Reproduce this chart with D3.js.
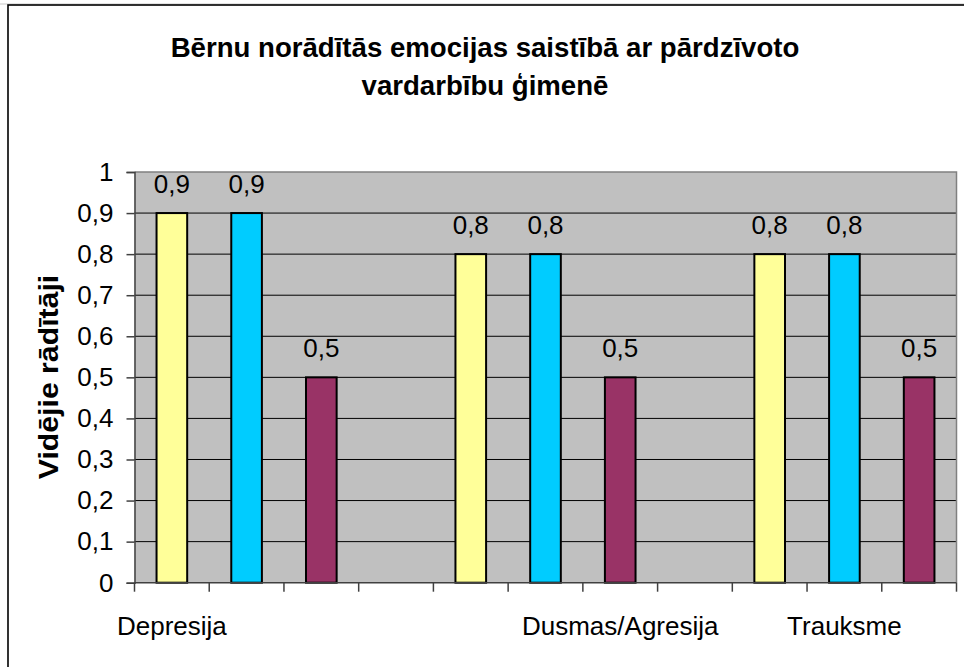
<!DOCTYPE html>
<html>
<head>
<meta charset="utf-8">
<script src="https://cdn.jsdelivr.net/npm/d3@7"></script>
<style>
  html, body { margin: 0; padding: 0; background: #fff; }
  svg { display: block; font-family: Arial, "Liberation Sans", sans-serif; }
</style>
</head>
<body>
<svg id="chart" width="964" height="667"></svg>
<script>
// ---- data ----
const titleLines = ["Bērnu norādītās emocijas saistībā ar pārdzīvoto", "vardarbību ģimenē"];
const yAxisTitle = "Vidējie rādītāji";
const slotLabels = ["Depresija", "", "", "", "", "", "Dusmas/Agresija", "", "", "Trauksme", ""];
const slotValues = [0.9, 0.9, 0.5, null, 0.8, 0.8, 0.5, null, 0.8, 0.8, 0.5];
const slotSeries = [0, 1, 2, null, 0, 1, 2, null, 0, 1, 2];
const yTicks = [0, 0.1, 0.2, 0.3, 0.4, 0.5, 0.6, 0.7, 0.8, 0.9, 1];

const seriesColors = ["#FFFF99", "#00CCFF", "#993366"];

const svg = d3.select("#chart");
const W = 964, H = 667;
const plot = { left: 134.5, right: 956.5, top: 172, bottom: 582.7 };

const fmt = d => (d === 0 || d === 1) ? String(d) : d.toFixed(1).replace(".", ",");

// outer frame
svg.append("line").attr("x1", 0).attr("x2", W).attr("y1", 4).attr("y2", 4)
  .attr("stroke", "#c8c8c8").attr("stroke-width", 1);
svg.append("rect").attr("x", 8).attr("y", 5).attr("width", W + 10).attr("height", H + 10)
  .attr("fill", "#fff").attr("stroke", "#000").attr("stroke-width", 1.6);

// scales
const x = d3.scaleBand().domain(d3.range(slotLabels.length)).range([plot.left, plot.right]).padding(0);
const y = d3.scaleLinear().domain([0, 1]).range([plot.bottom, plot.top]);

// plot background
svg.append("rect").attr("x", plot.left).attr("y", plot.top)
  .attr("width", plot.right - plot.left).attr("height", plot.bottom - plot.top)
  .attr("fill", "#C0C0C0");

// gridlines
svg.append("g").selectAll("line").data(yTicks.filter(t => t > 0 && t < 1)).join("line")
  .attr("x1", plot.left).attr("x2", plot.right)
  .attr("y1", d => y(d)).attr("y2", d => y(d))
  .attr("stroke", "#000").attr("stroke-width", 1);

// plot border top/right
svg.append("path")
  .attr("d", `M${plot.left},${plot.top}H${plot.right}V${plot.bottom}`)
  .attr("fill", "none").attr("stroke", "#808080").attr("stroke-width", 1.5);

// bars
const barW = x.bandwidth() * 0.41;
const bars = slotValues.map((v, i) => ({ i, v, s: slotSeries[i] })).filter(d => d.v != null);
svg.append("g").selectAll("rect").data(bars).join("rect")
  .attr("x", d => x(d.i) + x.bandwidth() / 2 - barW / 2)
  .attr("y", d => y(d.v))
  .attr("width", barW)
  .attr("height", d => y(0) - y(d.v))
  .attr("fill", d => seriesColors[d.s])
  .attr("stroke", "#000").attr("stroke-width", 2);

// value labels
svg.append("g").selectAll("text").data(bars).join("text")
  .attr("x", d => x(d.i) + x.bandwidth() / 2)
  .attr("y", d => y(d.v) - 20)
  .attr("text-anchor", "middle")
  .attr("font-size", 26)
  .attr("fill", "#000")
  .text(d => fmt(d.v));

// y axis
const yAxis = d3.axisLeft(y).tickValues(yTicks).tickFormat(fmt).tickSize(8).tickPadding(13);
const gy = svg.append("g").attr("transform", `translate(${plot.left},0)`).call(yAxis);
gy.select(".domain").attr("stroke", "#404040").attr("stroke-width", 1.5);
gy.selectAll(".tick line").attr("stroke", "#404040").attr("stroke-width", 1.5);
gy.selectAll(".tick text").attr("font-size", 26).attr("font-family", "Arial, 'Liberation Sans', sans-serif").attr("fill", "#000");

// x axis (slot boundary ticks)
const bounds = d3.range(slotLabels.length + 1).map(i => plot.left + i * x.step());
svg.append("line").attr("x1", plot.left).attr("x2", plot.right)
  .attr("y1", plot.bottom).attr("y2", plot.bottom)
  .attr("stroke", "#404040").attr("stroke-width", 1.5);
svg.append("g").selectAll("line").data(bounds).join("line")
  .attr("x1", d => d).attr("x2", d => d)
  .attr("y1", plot.bottom).attr("y2", plot.bottom + 9)
  .attr("stroke", "#404040").attr("stroke-width", 1.5);

// category labels
svg.append("g").selectAll("text").data(slotLabels.map((t, i) => ({ t, i })).filter(d => d.t)).join("text")
  .attr("x", d => x(d.i) + x.bandwidth() / 2)
  .attr("y", 635)
  .attr("text-anchor", "middle")
  .attr("font-size", 26)
  .attr("fill", "#000")
  .text(d => d.t);

// y axis title
svg.append("text")
  .attr("transform", `translate(58,377) rotate(-90) scale(1.08,1)`)
  .attr("text-anchor", "middle")
  .attr("font-size", 28)
  .attr("font-weight", "bold")
  .attr("fill", "#000")
  .text(yAxisTitle);

// title
svg.append("g").selectAll("text").data(titleLines).join("text")
  .attr("x", 485)
  .attr("y", (d, i) => 57 + i * 38)
  .attr("text-anchor", "middle")
  .attr("font-size", 27.6)
  .attr("font-weight", "bold")
  .attr("fill", "#000")
  .text(d => d);
</script>
</body>
</html>
